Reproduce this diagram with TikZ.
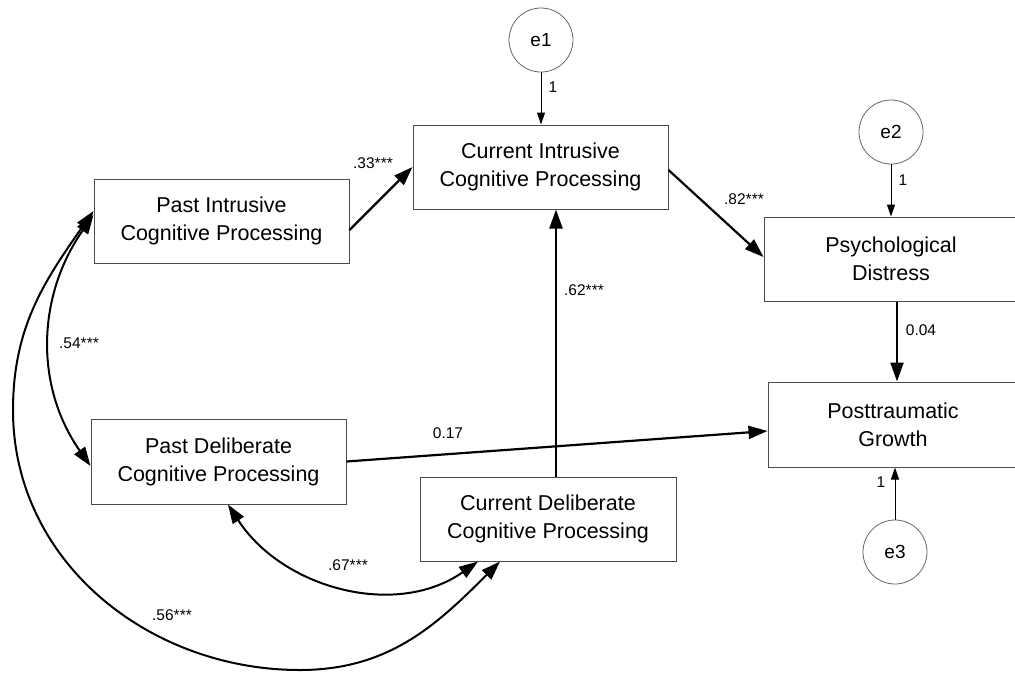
\documentclass[tikz,border=0pt]{standalone}
\usepackage{fontspec}
\setmainfont{Liberation Sans}
\usetikzlibrary{arrows.meta}
\begin{document}
\begin{tikzpicture}[x=1pt, y=-1pt,
    var/.style={draw=black!70, line width=1pt, minimum width=255pt, minimum height=84pt,
        align=center, inner sep=0pt, font=\fontsize{21.5}{28}\selectfont},
    err/.style={circle, draw=black!60, line width=0.8pt, minimum size=64pt, inner sep=0pt,
        font=\fontsize{19}{22}\selectfont},
    regr/.style={line width=2.2pt, -{Triangle[length=19pt,width=13pt]}},
    fixed/.style={line width=1pt, -{Triangle[length=12pt,width=8pt]}},
    cov/.style={line width=2pt, {Triangle[length=19pt,width=13pt]}-{Triangle[length=19pt,width=13pt]}},
    lbl/.style={font=\fontsize{15.5}{18}\selectfont, inner sep=0pt}]
    \useasboundingbox (0,0) rectangle (1015,673);

    % observed variables
    \node[var] (pastint) at (221.5,221) {Past Intrusive\\Cognitive Processing};
    \node[var] (curint) at (540.5,167) {Current Intrusive\\Cognitive Processing};
    \node[var, minimum width=254pt] (distress) at (891,259) {Psychological\\Distress};
    \node[var, minimum width=250pt, minimum height=85pt] (growth) at (893,424.5) {Posttraumatic\\Growth};
    \node[var, minimum height=85pt] (pastdel) at (218.5,461.5) {Past Deliberate\\Cognitive Processing};
    \node[var, minimum width=256pt] (curdel) at (548,519) {Current Deliberate\\Cognitive Processing};

    % error terms
    \node[err] (e1) at (541,40) {e1};
    \node[err] (e2) at (891,132) {e2};
    \node[err] (e3) at (895,552) {e3};

    \draw[fixed] (e1.south) -- (e1.south |- curint.north);
    \draw[fixed] (e2.south) -- (e2.south |- distress.north);
    \draw[fixed] (e3.north) -- (e3.north |- growth.south);
    \node[lbl] (w1) at (553,87) {1};
    \node[lbl] (w2) at (903,180) {1};
    \node[lbl] (w3) at (881,482) {1};

    % regression paths
    \draw[regr] ([yshift=-9pt]pastint.east) -- (curint.west);
    \draw[regr] ([yshift=-3pt]curint.east) -- ([yshift=2pt]distress.west);
    \draw[regr] ([xshift=8pt]curdel.north) -- ([xshift=8pt]curdel.north |- curint.south);
    \draw[regr] ([xshift=6pt]distress.south) -- ([xshift=6pt]distress.south |- growth.north);
    \draw[regr] (pastdel.east) -- ([yshift=-6.5pt]growth.west);
    \node[lbl] (b33) at (373,163) {.33***};
    \node[lbl] (b82) at (744,199) {.82***};
    \node[lbl] (b62) at (584,290) {.62***};
    \node[lbl] (b04) at (921,330) {0.04};
    \node[lbl] (b17) at (448,433) {0.17};

    % covariances
    \coordinate (c56a) at (13,410);
    \coordinate (c56b) at (300,670);
    \draw[cov] ([yshift=6pt]pastint.west) to[out=235, in=125] ([yshift=-4.5pt]pastdel.west);
    \draw[cov] ([yshift=10pt]pastint.west) to[out=235, in=90] (c56a)
        to[out=270, in=180] (c56b) to[out=0, in=225] ([xshift=-48pt]curdel.south);
    \draw[cov] ([xshift=9.5pt]pastdel.south) to[out=303, in=215] ([xshift=-70pt]curdel.south);
    \node[lbl] (r54) at (79,343) {.54***};
    \node[lbl] (r67) at (348,565) {.67***};
    \node[lbl] (r56) at (172,615) {.56***};
\end{tikzpicture}
\end{document}
